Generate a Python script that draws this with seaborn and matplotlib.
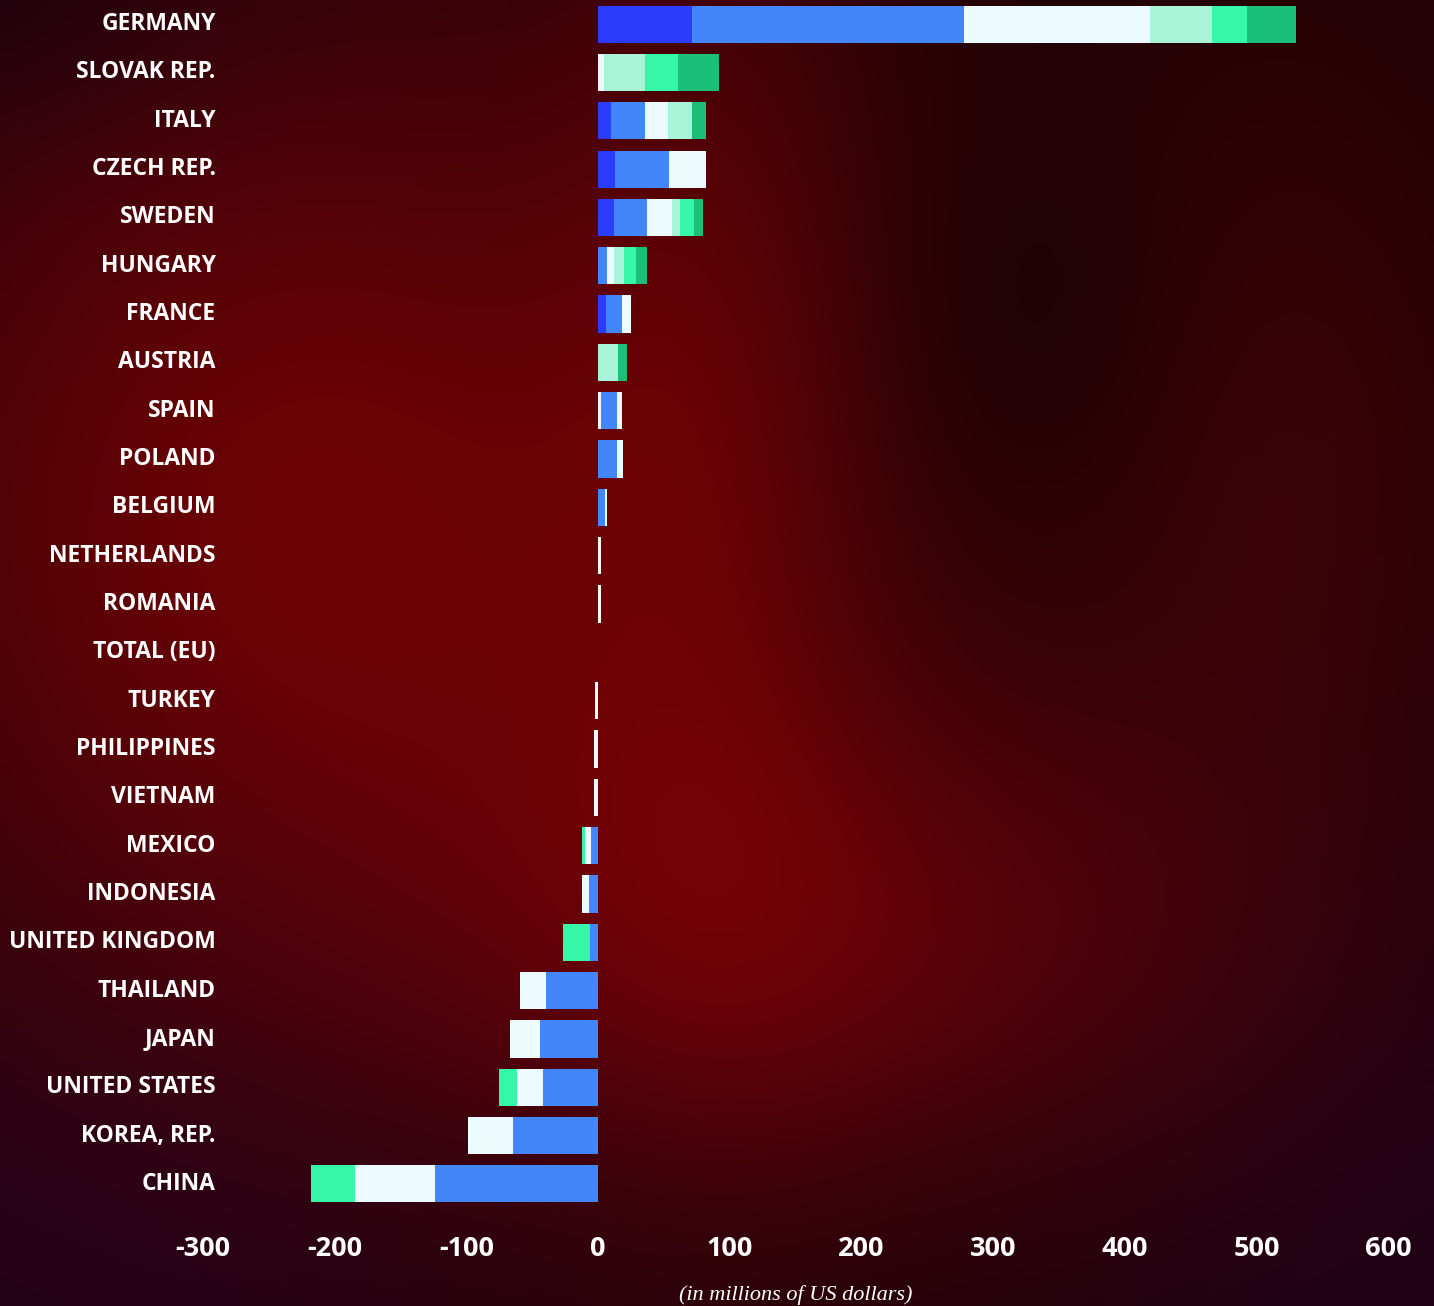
import numpy as np
import pandas as pd
import seaborn as sns
import matplotlib.pyplot as plt

countries = ["GERMANY", "SLOVAK REP.", "ITALY", "CZECH REP.", "SWEDEN", "HUNGARY",
             "FRANCE", "AUSTRIA", "SPAIN", "POLAND", "BELGIUM", "NETHERLANDS",
             "ROMANIA", "TOTAL (EU)", "TURKEY", "PHILIPPINES", "VIETNAM", "MEXICO",
             "INDONESIA", "UNITED KINGDOM", "THAILAND", "JAPAN", "UNITED STATES",
             "KOREA, REP.", "CHINA"]

# stacked segments (millions of US dollars)
s_white = [0, 4.5, 0, 0, 0, 0, 0, 0, 2.5, 0, 0, 2, 2.5, 0, 0, 0, 0, 0, 0, 0, 0, 0, 0, 0, 0]
s_dark_blue = [71, 0, 10, 13, 12, 0, 6, 0, 0, 0, 0, 0, 0, 0, 0, 0, 0, 0, 0, 0, 0, 0, 0, 0, 0]
s_blue = [207, 0, 26, 41, 25, 7, 12.5, 0, 11.5, 14, 5, 0, 0, 0, 0, 0, 0,
          -5.3, -6.6, -6, -39.3, -44.4, -41.8, -64.5, -123.8]
s_light = [141, 0, 17, 28, 19, 5, 6.5, 0, 4.5, 4.7, 2, 0, 0, 0, -2.5, -3, -3,
           -5, -5.7, 0, -20.2, -22.7, -19.7, -34, -60.5]
s_light_mint = [47, 31, 18, 0, 6, 8, 0, 15, 0, 0, 0, 0, 0, 0, 0, 0, 0,
                0, 0, 0, 0, 0, 0, 0, 0]
s_mint = [27, 25.5, 0, 0, 11, 9, 0, 0, 0, 0, 0, 0, 0, 0, 0, 0, 0,
          -2, 0, -21, 0, 0, -13.9, 0, -34]
s_green = [37, 31, 11, 0, 7, 8.5, 0, 6.7, 0, 0, 0, 0, 0, 0, 0, 0, 0,
           0, 0, 0, 0, 0, 0, 0, 0]

xticks = [-300, -200, -100, 0, 100, 200, 300, 400, 500, 600]

series = ["white", "dark_blue", "blue", "light", "light_mint", "mint", "green"]
colors = {"white": "#f3f5fb", "dark_blue": "#2b3cfb", "blue": "#4386fb",
          "light": "#ebfbfe", "light_mint": "#a9f3d9", "mint": "#36f6a8",
          "green": "#1bbf78"}

df = pd.DataFrame({"white": s_white, "dark_blue": s_dark_blue, "blue": s_blue,
                   "light": s_light, "light_mint": s_light_mint, "mint": s_mint,
                   "green": s_green}, index=countries)
pos = df.clip(lower=0).cumsum(axis=1)
neg = df.clip(upper=0).cumsum(axis=1)

fig = plt.figure(figsize=(14.34, 13.06), dpi=100)

# blurred dark red backdrop
bg = fig.add_axes([0, 0, 1, 1], zorder=0)
yy, xx = np.mgrid[0:1:131j, 0:1:144j]
def blob(cx, cy, sx, sy):
    return np.exp(-(((xx - cx) / sx) ** 2 + ((yy - cy) / sy) ** 2))
r = 0.12 + 0.30 * blob(0.22, 0.40, 0.35, 0.4) + 0.20 * blob(0.6, 0.72, 0.3, 0.2) \
    + 0.12 * blob(0.5, 0.3, 0.12, 0.5) + 0.10 * blob(0.9, 0.35, 0.15, 0.3) \
    - 0.05 * blob(0.72, 0.25, 0.12, 0.15) - 0.06 * blob(0.0, 0.0, 0.15, 0.1)
g = 0.0 * xx
b = 0.02 + 0.07 * blob(0.0, 1.0, 0.4, 0.3) + 0.06 * blob(1.0, 1.0, 0.3, 0.4) + 0.03 * blob(0.0, 0.0, 0.3, 0.2)
img = np.clip(np.dstack([r, g + 0.01, b]), 0, 1)
bg.imshow(img, aspect="auto", interpolation="bicubic", extent=[0, 1, 0, 1], origin="upper")
bg.axis("off")

ax = fig.add_axes([0.1416, 0.075, 0.8264, 0.925], zorder=1)
ax.set_facecolor("none")

for col in reversed(series):
    for cum in (pos, neg):
        sns.barplot(x=cum[col].values, y=countries, order=countries, orient="h",
                    color=colors[col], saturation=1, width=0.77, linewidth=0,
                    errorbar=None, ax=ax)

ax.set_xlim(-300, 600)
ax.set_ylim(24.5, -0.5)
ax.set_xticks(xticks)
ax.set_xticklabels([str(t) for t in xticks], fontsize=19.5, fontweight="bold",
                   color="white", family="Open Sans")
ax.set_yticks(range(len(countries)))
ax.set_yticklabels(countries, fontsize=16.5, fontweight="bold", color="white",
                   family="Open Sans", va="center")
ax.tick_params(axis="y", length=0, pad=-9)
ax.tick_params(axis="x", length=0, pad=20)
ax.set_ylabel("")
ax.set_xlabel("(in millions of US dollars)", fontsize=16, style="italic",
              color="white", family="Liberation Serif", labelpad=17)
for s in ax.spines.values():
    s.set_visible(False)
ax.grid(False)

fig.savefig("out.png", dpi=100)
